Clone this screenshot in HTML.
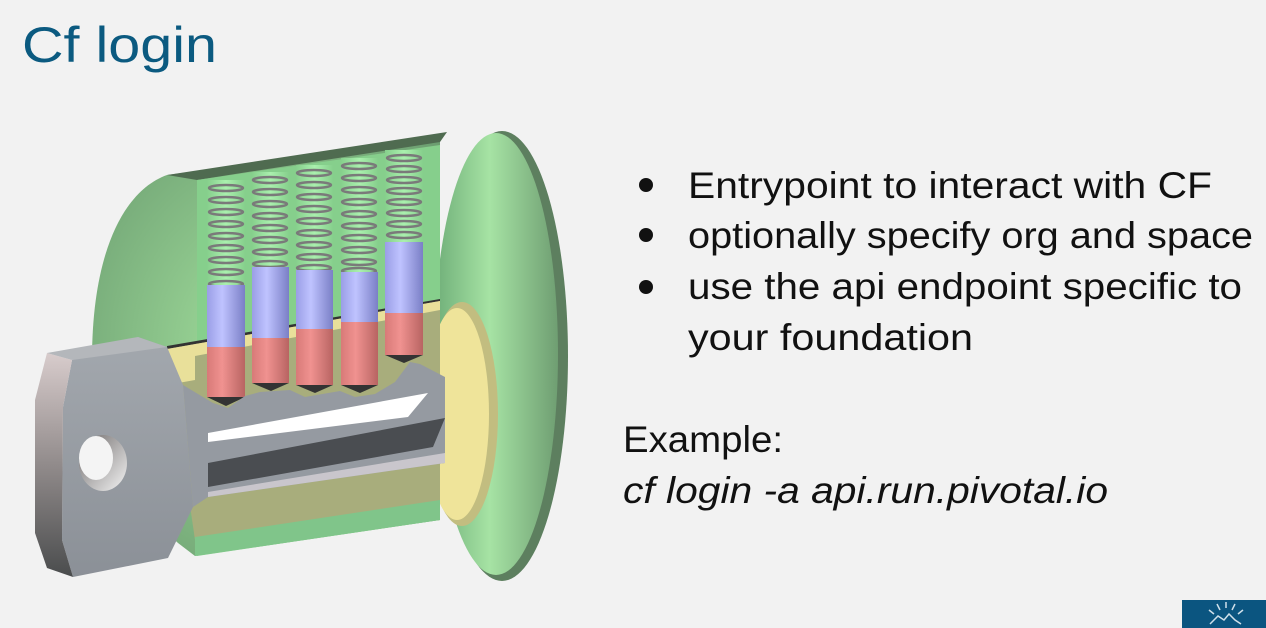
<!DOCTYPE html>
<html><head><meta charset="utf-8"><style>
html,body{margin:0;padding:0;background:#f2f2f2;}
svg{display:block;}
</style></head><body>
<svg width="1266" height="628" viewBox="0 0 1266 628" xmlns="http://www.w3.org/2000/svg">
<defs>
<linearGradient id="disc" x1="0" x2="1" y1="0" y2="0"><stop offset="0" stop-color="#6fae78"/><stop offset="0.45" stop-color="#a6e3a4"/><stop offset="1" stop-color="#6f9e72"/></linearGradient>
<radialGradient id="body" cx="0.5" cy="0.5" r="0.7"><stop offset="0" stop-color="#a4e19e"/><stop offset="1" stop-color="#6b9d70"/></radialGradient>
<linearGradient id="blue" x1="0" x2="1"><stop offset="0" stop-color="#9a9ee6"/><stop offset="0.4" stop-color="#bfc3ff"/><stop offset="1" stop-color="#7a7fc6"/></linearGradient>
<linearGradient id="red" x1="0" x2="1"><stop offset="0" stop-color="#d87a78"/><stop offset="0.4" stop-color="#f09290"/><stop offset="1" stop-color="#b86462"/></linearGradient>
<linearGradient id="col" x1="0" x2="1"><stop offset="0" stop-color="#86cf8c"/><stop offset="0.5" stop-color="#aaf0ae"/><stop offset="1" stop-color="#86cf8c"/></linearGradient>
<linearGradient id="head" x1="0" x2="0" y1="0" y2="1"><stop offset="0" stop-color="#a3a8ae"/><stop offset="1" stop-color="#8b9097"/></linearGradient>
<linearGradient id="edge" x1="0" x2="0" y1="0" y2="1"><stop offset="0" stop-color="#d8cccc"/><stop offset="0.5" stop-color="#918b8b"/><stop offset="1" stop-color="#4a4c4d"/></linearGradient>
<linearGradient id="hole" x1="0" x2="1" y1="0" y2="1"><stop offset="0" stop-color="#6e6a6a"/><stop offset="1" stop-color="#f4f4f4"/></linearGradient>
</defs>
<rect width="1266" height="628" fill="#f2f2f2"/>
<text x="22" y="62" font-family="Liberation Sans, sans-serif" font-size="50" fill="#0b5a80" textLength="195" lengthAdjust="spacingAndGlyphs">Cf login</text>

<!-- disc -->
<ellipse cx="502" cy="356" rx="66" ry="225" fill="#5d7f5f"/>
<ellipse cx="496" cy="354" rx="62" ry="221" fill="url(#disc)"/>
<!-- body -->
<path d="M167,175 L440,138 L440,520 L195,556 L178,543 C120,490 92,430 92,360 C92,250 125,190 167,175 Z" fill="url(#body)"/>
<path d="M167,175 L447,132 L440,142 L197,180 Z" fill="#4f6b50"/>
<!-- inner cutout -->
<path d="M197,180 L440,145 L440,520 L197,556 Z" fill="#86cf8c"/>
<rect x="207" y="180" width="38" height="110" fill="url(#col)"/>
<rect x="252" y="172" width="37" height="100" fill="url(#col)"/>
<rect x="296" y="165" width="37" height="110" fill="url(#col)"/>
<rect x="341" y="158" width="37" height="120" fill="url(#col)"/>
<rect x="385" y="150" width="38" height="95" fill="url(#col)"/>
<!-- yellow plug -->
<ellipse cx="462" cy="414" rx="36" ry="112" fill="#c2bd80"/>
<ellipse cx="457" cy="414" rx="32" ry="106" fill="#efe49a"/>
<path d="M167,347 L440,300 L440,520 L195,540 Z" fill="#a8ad7c"/>
<path d="M167,346 L440,299 L440,301 L167,349 Z" fill="#333"/>
<path d="M167,349 L440,301 L440,310 L195,356 L195,380 L167,385 Z" fill="#e9e09a"/>
<path d="M195,537 L440,500 L440,520 L195,556 Z" fill="#80c58a"/>
<!-- springs -->
<g fill="none" stroke="#7a7a7a" stroke-width="2.5">
<ellipse cx="226" cy="188" rx="17" ry="3"/><ellipse cx="226" cy="200" rx="17" ry="3"/><ellipse cx="226" cy="212" rx="17" ry="3"/><ellipse cx="226" cy="224" rx="17" ry="3"/><ellipse cx="226" cy="236" rx="17" ry="3"/><ellipse cx="226" cy="248" rx="17" ry="3"/><ellipse cx="226" cy="260" rx="17" ry="3"/><ellipse cx="226" cy="272" rx="17" ry="3"/><ellipse cx="226" cy="284" rx="17" ry="3"/>
<ellipse cx="270" cy="180" rx="17" ry="3"/><ellipse cx="270" cy="192" rx="17" ry="3"/><ellipse cx="270" cy="204" rx="17" ry="3"/><ellipse cx="270" cy="216" rx="17" ry="3"/><ellipse cx="270" cy="228" rx="17" ry="3"/><ellipse cx="270" cy="240" rx="17" ry="3"/><ellipse cx="270" cy="252" rx="17" ry="3"/><ellipse cx="270" cy="264" rx="17" ry="3"/>
<ellipse cx="314" cy="173" rx="17" ry="3"/><ellipse cx="314" cy="185" rx="17" ry="3"/><ellipse cx="314" cy="197" rx="17" ry="3"/><ellipse cx="314" cy="209" rx="17" ry="3"/><ellipse cx="314" cy="221" rx="17" ry="3"/><ellipse cx="314" cy="233" rx="17" ry="3"/><ellipse cx="314" cy="245" rx="17" ry="3"/><ellipse cx="314" cy="257" rx="17" ry="3"/><ellipse cx="314" cy="268" rx="17" ry="3"/>
<ellipse cx="359" cy="166" rx="17" ry="3"/><ellipse cx="359" cy="178" rx="17" ry="3"/><ellipse cx="359" cy="190" rx="17" ry="3"/><ellipse cx="359" cy="202" rx="17" ry="3"/><ellipse cx="359" cy="214" rx="17" ry="3"/><ellipse cx="359" cy="226" rx="17" ry="3"/><ellipse cx="359" cy="238" rx="17" ry="3"/><ellipse cx="359" cy="250" rx="17" ry="3"/><ellipse cx="359" cy="262" rx="17" ry="3"/><ellipse cx="359" cy="271" rx="17" ry="3"/>
<ellipse cx="404" cy="158" rx="17" ry="3"/><ellipse cx="404" cy="169" rx="17" ry="3"/><ellipse cx="404" cy="180" rx="17" ry="3"/><ellipse cx="404" cy="191" rx="17" ry="3"/><ellipse cx="404" cy="202" rx="17" ry="3"/><ellipse cx="404" cy="213" rx="17" ry="3"/><ellipse cx="404" cy="224" rx="17" ry="3"/><ellipse cx="404" cy="235" rx="17" ry="3"/>
</g>
<!-- pins -->
<g>
<rect x="207" y="285" width="38" height="62" fill="url(#blue)"/><rect x="207" y="347" width="38" height="50" fill="url(#red)"/><path d="M207,397 h38 l-19,9 z" fill="#333"/>
<rect x="252" y="267" width="37" height="71" fill="url(#blue)"/><rect x="252" y="338" width="37" height="45" fill="url(#red)"/><path d="M252,383 h37 l-18,8 z" fill="#333"/>
<rect x="296" y="270" width="37" height="59" fill="url(#blue)"/><rect x="296" y="329" width="37" height="56" fill="url(#red)"/><path d="M296,385 h37 l-18,8 z" fill="#333"/>
<rect x="341" y="272" width="37" height="50" fill="url(#blue)"/><rect x="341" y="322" width="37" height="63" fill="url(#red)"/><path d="M341,385 h37 l-18,8 z" fill="#333"/>
<rect x="385" y="242" width="38" height="71" fill="url(#blue)"/><rect x="385" y="313" width="38" height="42" fill="url(#red)"/><path d="M385,355 h38 l-19,8 z" fill="#333"/>
</g>
<!-- key blade -->
<path d="M183,385 L213,403 L228,408 L245,396 L260,392 L290,390 L305,397 L340,391 L355,397 L375,394 L395,382 L410,362 L420,364 L445,377 L445,463 L208,497 L193,507 Z" fill="#959aa1"/>
<path d="M208,433 L428,393 L408,417 L208,442 Z" fill="#ffffff"/>
<path d="M208,463 L445,418 L433,447 L208,487 Z" fill="#4a4d51"/>
<path d="M208,492 L445,453 L445,463 L208,497 Z" fill="#c9c6cc"/>
<!-- key head -->
<path d="M72,360 L138,337 L167,347 L183,385 L193,507 L168,558 L73,577 L62,540 L63,407 Z" fill="url(#head)"/>
<path d="M35,400 L47,353 L72,360 L63,407 L62,540 L73,577 L47,568 L35,533 Z" fill="url(#edge)"/>
<path d="M47,353 L138,337 L167,347 L72,360 Z" fill="#b4b7bb"/>
<ellipse cx="103" cy="463" rx="24" ry="28" fill="url(#hole)"/>
<ellipse cx="96" cy="458" rx="17" ry="22" fill="#f4f4f4"/>

<g font-family="Liberation Sans, sans-serif" font-size="37" fill="#111">
<circle cx="646" cy="185" r="7" fill="#111"/>
<circle cx="646" cy="235" r="7" fill="#111"/>
<circle cx="646" cy="287" r="7" fill="#111"/>
<text x="688" y="198" textLength="524" lengthAdjust="spacingAndGlyphs">Entrypoint to interact with CF</text>
<text x="688" y="248" textLength="565" lengthAdjust="spacingAndGlyphs">optionally specify org and space</text>
<text x="688" y="299" textLength="554" lengthAdjust="spacingAndGlyphs">use the api endpoint specific to</text>
<text x="688" y="350" textLength="285" lengthAdjust="spacingAndGlyphs">your foundation</text>
<text x="623" y="452" textLength="160" lengthAdjust="spacingAndGlyphs">Example:</text>
<text x="623" y="503" font-style="italic" textLength="485" lengthAdjust="spacingAndGlyphs">cf login -a api.run.pivotal.io</text>
</g>
<rect x="1182" y="600" width="84" height="28" fill="#0b5580"/>
<g stroke="#cfe0ea" stroke-width="1.5" fill="none">
<path d="M1210,624 l8,-8 l6,4 l5,-6 l6,6 l6,4"/>
<path d="M1220,610 l-3,-6 M1226,608 v-6 M1232,610 l3,-6 M1214,614 l-5,-4 M1238,614 l5,-4"/>
</g>
</svg>
</body></html>
